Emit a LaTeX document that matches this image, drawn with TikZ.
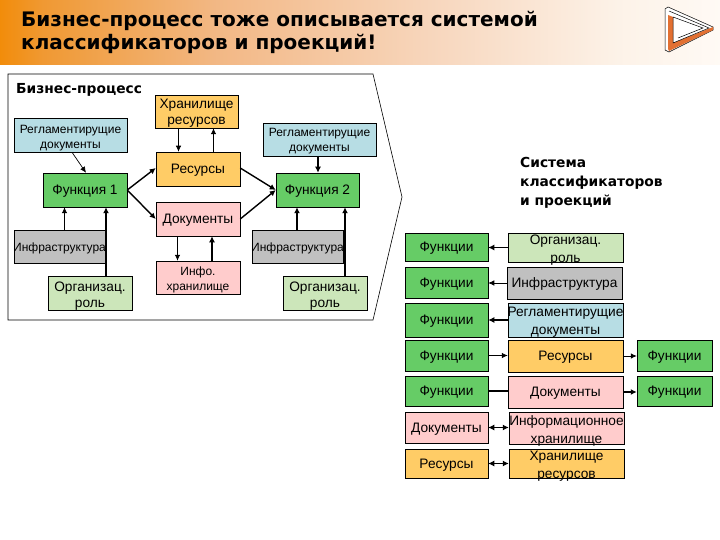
\documentclass[tikz,border=0pt]{standalone}
\usepackage{fontspec}
\setmainfont{Liberation Sans}
\newfontfamily\headfont{DejaVu Sans}
\usetikzlibrary{arrows.meta}
\definecolor{FuncClr}{RGB}{102,204,102}
\definecolor{RegClr}{RGB}{183,221,228}
\definecolor{ResClr}{RGB}{255,204,102}
\definecolor{DocClr}{RGB}{255,204,204}
\definecolor{InfClr}{RGB}{192,192,192}
\definecolor{OrgClr}{RGB}{204,230,186}
\definecolor{LogoClr}{RGB}{226,112,50}
\pgfdeclarehorizontalshading{titleband}{100bp}{
  rgb(0bp)=(0.95,0.55,0.04);
  rgb(25bp)=(0.95,0.55,0.04);
  rgb(28bp)=(0.94,0.60,0.20);
  rgb(40bp)=(0.95,0.72,0.52);
  rgb(55bp)=(0.97,0.84,0.74);
  rgb(68bp)=(0.99,0.95,0.91);
  rgb(75bp)=(1,0.98,0.96);
  rgb(100bp)=(1,0.98,0.96)}
\newcommand{\wide}[1]{\makebox[0pt]{#1}}
\tikzset{
  block/.style 2 args={draw=black,line width=.5pt,inner sep=0pt,align=center,
    minimum width=#1pt,minimum height=#2pt,font=\fontsize{13.7}{16}\selectfont},
  oneline/.style={text height=12pt,text depth=2.6pt},
  twoline/.style={text height=#1,text depth=0pt},
  smalltext/.style={font=\fontsize{12}{15}\selectfont},
  looseline/.style={font=\fontsize{13.7}{17.5}\selectfont},
  func/.style={fill=FuncClr},
  reg/.style={fill=RegClr},
  res/.style={fill=ResClr},
  doc/.style={fill=DocClr},
  inf/.style={fill=InfClr},
  org/.style={fill=OrgClr},
  thin arrow/.style={-{Latex[length=6pt,width=5.5pt]},line width=.7pt},
  thick arrow/.style={-{Latex[length=6pt,width=6pt]},line width=1.4pt},
  both arrow/.style={{Latex[length=6pt,width=6pt]}-{Latex[length=6pt,width=6pt]},line width=1pt},
  head/.style={font=\headfont\bfseries\fontsize{13.8}{19}\selectfont,align=left,inner sep=0pt}
}
\begin{document}
\begin{tikzpicture}[x=1pt,y=-1pt]
\useasboundingbox (0,0) rectangle (720,540);

% title band
\shade[shading=titleband] (0,0) rectangle (720,65);
\node[anchor=north west,inner sep=0pt,align=left,font=\headfont\bfseries\fontsize{20}{23}\selectfont] (title) at (21,11)
  {Бизнес-процесс тоже описывается системой\\классификаторов и проекций!};

% logo
\fill[white,draw=black,line width=.5pt] (665,9) -- (668,7) -- (713,27) -- (713,30) -- (669,52) -- (665,50) -- cycle;
\fill[LogoClr] (668,15) -- (673,17) -- (673,43) -- (713,27) -- (713,30) -- (669,51) -- (668,49) -- cycle;
\draw[line width=.5pt] (669,11) -- (709,28) -- (673,43) -- (673,17) -- (703,28) -- (678,38);

% process frame
\draw[line width=.6pt] (8,74) -- (373,74) -- (402,197) -- (373,320) -- (8,320) -- cycle;
\node[head,anchor=west] (proc) at (16,90) {Бизнес-процесс};

\node[block={113}{34},reg,smalltext,twoline=26.4pt] (reg1) at (70.5,135) {Регламентирущие\\документы};
\node[block={84}{34},func,oneline] (func1) at (85,190) {Функция 1};
\node[block={91}{33},inf,oneline,smalltext] (inf1) at (59.5,246.5) {\wide{Инфраструктура}};
\node[block={84}{34},org,twoline=29.4pt] (org1) at (90,293) {Организац.\\роль};
\node[block={83}{33},res,twoline=26.4pt] (hran) at (196.5,111.5) {Хранилище\\ресурсов};
\node[block={84}{34},res,oneline] (res) at (198,169) {Ресурсы};
\node[block={84}{34},doc,oneline] (docs) at (198,219) {Документы};
\node[block={84}{33},doc,smalltext,twoline=26.4pt] (info) at (198,277.5) {Инфо.\\хранилище};
\node[block={113}{33},reg,smalltext,twoline=25pt] (reg2) at (319.5,139.5) {Регламентирущие\\документы};
\node[block={83}{34},func,oneline] (func2) at (317.5,190) {Функция 2};
\node[block={91}{33},inf,oneline,smalltext] (inf2) at (297.5,246.5) {\wide{Инфраструктура}};
\node[block={84}{34},org,twoline=29.4pt] (org2) at (325,293) {Организац.\\роль};

\draw[thin arrow] ([xshift=1.5pt]reg1.south) -- ([xshift=1pt]func1.north);
\draw[thin arrow] ([xshift=-18pt]hran.south) -- ([xshift=-19.5pt]res.north);
\draw[thin arrow] ([xshift=15.5pt]res.north) -- ([xshift=17pt]hran.south);
\draw[thick arrow] (func1.east) -- ([yshift=1pt]res.west);
\draw[thick arrow] (func1.east) -- (docs.west);
\draw[thick arrow] ([yshift=1pt]res.east) -- (func2.west);
\draw[thick arrow] (docs.east) -- (func2.west);
\draw[thin arrow] ([xshift=-20.5pt]docs.south) -- ([xshift=-20.5pt]info.north);
\draw[thick arrow] ([xshift=14pt]info.north) -- ([xshift=14pt]docs.south);
\draw[thick arrow] ([xshift=-1.5pt]reg2.south) -- ([xshift=.5pt]func2.north);
\draw[thin arrow] ([xshift=5pt]inf1.north) -- ([xshift=-20.5pt]func1.south);
\draw[thick arrow] ([xshift=16pt]org1.north) -- ([xshift=21pt]func1.south);
\draw[thick arrow] ([xshift=-.5pt]inf2.north) -- ([xshift=-20.5pt]func2.south);
\draw[thick arrow] ([xshift=20pt]org2.north) -- ([xshift=27.5pt]func2.south);

% classifiers
\node[head,anchor=north west] (sys) at (520,157) {Система\\классификаторов\\и проекций};

\node[block={83}{28},func,oneline] (fa) at (446.5,247) {Функции};
\node[block={83}{31},func,oneline] (fb) at (446.5,282.5) {Функции};
\node[block={83}{34},func,oneline] (fc) at (446.5,320) {Функции};
\node[block={83}{31},func,oneline] (fd) at (446.5,355.5) {Функции};
\node[block={83}{30},func,oneline] (fe) at (446.5,391) {Функции};
\node[block={83}{31},doc,oneline] (dl) at (446.5,427.5) {Документы};
\node[block={83}{29},res,oneline] (rl) at (446.5,463.5) {Ресурсы};

\node[block={115}{29},org,looseline,twoline=29pt] (oc) at (565.5,247.5) {Организац.\\роль};
\node[block={115}{32},inf,oneline] (ic) at (564.5,283) {Инфраструктура};
\node[block={115}{34},reg,looseline,twoline=28.4pt] (gc) at (565.5,320) {\wide{Регламентирущие}\\документы};
\node[block={115}{32},res,oneline] (rc) at (565.5,356) {Ресурсы};
\node[block={115}{32},doc,oneline] (dc) at (565.5,392) {Документы};
\node[block={115}{32},doc,looseline,twoline=30.4pt] (hc) at (566.5,428) {Информационное\\хранилище};
\node[block={115}{29},res,looseline,twoline=29pt] (sc) at (566.5,463.5) {Хранилище\\ресурсов};

\node[block={75}{31},func,oneline] (fx) at (674.5,355.5) {Функции};
\node[block={75}{30},func,oneline] (fy) at (674.5,391) {Функции};

\draw[thick arrow] (oc.west) -- (oc.west -| fa.east);
\draw[thin arrow] (ic.west) -- (ic.west -| fb.east);
\draw[thick arrow] (gc.west) -- (gc.west -| fc.east);
\draw[thin arrow] (fd.east) -- (fd.east -| rc.west);
\draw[thin arrow] (rc.east) -- (rc.east -| fx.west);
\draw[line width=1.4pt] (fe.east) -- (fe.east -| dc.west);
\draw[thick arrow] (dc.east) -- (dc.east -| fy.west);
\draw[both arrow] (dl.east) -- (dl.east -| hc.west);
\draw[both arrow] (rl.east) -- (rl.east -| sc.west);

\end{tikzpicture}
\end{document}
